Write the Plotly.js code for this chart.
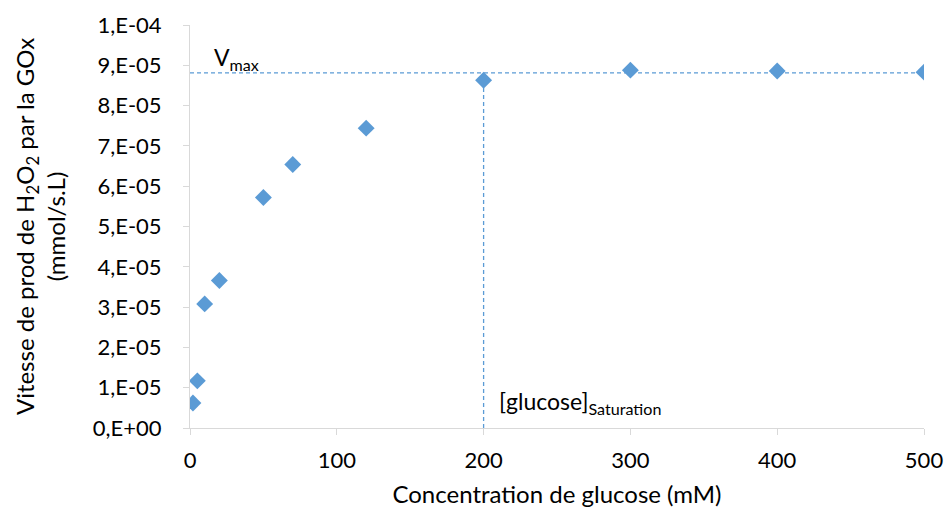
<!DOCTYPE html>
<html>
<head>
<meta charset="utf-8">
<script src="https://cdn.plot.ly/plotly-3.0.1.min.js"></script>
<style>html,body{margin:0;padding:0;background:#fff;}#chart{width:944px;height:513px;}</style>
</head>
<body>
<div id="chart"></div>
<script>
// Data
const glucose = [2, 5, 10, 20, 50, 70, 120, 200, 300, 400, 500];
const rate = [6.2e-6, 11.7e-6, 30.8e-6, 36.6e-6, 57.2e-6, 65.4e-6, 74.4e-6, 86.3e-6, 88.8e-6, 88.6e-6, 88.3e-6];
const vmax = 88.1e-6;
const satConc = 200;
const vmaxLineX = [0, 500];
const vmaxLineY = [vmax, vmax];
const satLineX = [satConc, satConc];
const satLineY = [0, vmax];
const yTickVals = [0, 1e-5, 2e-5, 3e-5, 4e-5, 5e-5, 6e-5, 7e-5, 8e-5, 9e-5, 1e-4];
const yTickText = ["0,E+00", "1,E-05", "2,E-05", "3,E-05", "4,E-05", "5,E-05", "6,E-05", "7,E-05", "8,E-05", "9,E-05", "1,E-04"];
const xTickVals = [0, 100, 200, 300, 400, 500];

const blue = '#5b9bd5';
const font = 'Lato, "Open Sans", sans-serif';

const traces = [
  {x: vmaxLineX, y: vmaxLineY, mode: 'lines', line: {color: blue, width: 1.3, dash: '4px,3px'}, hoverinfo: 'skip', showlegend: false},
  {x: satLineX, y: satLineY, mode: 'lines', line: {color: blue, width: 1.3, dash: '4px,3px'}, hoverinfo: 'skip', showlegend: false},
  {x: glucose, y: rate, mode: 'markers', marker: {symbol: 'diamond', size: 13, color: blue}, showlegend: false}
];

const layout = {
  width: 944, height: 513,
  margin: {l: 190, r: 20, t: 25, b: 85},
  paper_bgcolor: '#fff', plot_bgcolor: '#fff',
  font: {family: font, size: 23, color: '#000'},
  showlegend: false,
  xaxis: {
    range: [0, 500], tickvals: xTickVals, ticktext: xTickVals.map(String),
    showgrid: false, zeroline: false, showline: true, linecolor: '#d9d9d9', linewidth: 1,
    ticks: 'outside', ticklen: 6, tickcolor: '#d9d9d9', ticklabelstandoff: 7,
    tickfont: {family: font, size: 22, color: '#000'},
    title: {text: 'Concentration de glucose (mM)', font: {family: font, size: 24, color: '#000'}, standoff: 13}
  },
  yaxis: {
    range: [0, 1e-4], tickvals: yTickVals, ticktext: yTickText,
    showgrid: false, zeroline: false, showline: true, linecolor: '#d9d9d9', linewidth: 1,
    ticks: 'outside', ticklen: 6, tickcolor: '#d9d9d9', ticklabelstandoff: 17,
    tickfont: {family: font, size: 22, color: '#000'},
    title: {text: 'Vitesse de prod de H<sub>2</sub>O<sub>2</sub> par la GOx<br>(mmol/s.L)', font: {family: font, size: 24, color: '#000'}, standoff: 20}
  },
  annotations: [
    {x: 15, y: vmax, xref: 'x', yref: 'y', xanchor: 'left', yanchor: 'bottom', yshift: -3, showarrow: false,
     text: 'V<sub>max</sub>', font: {family: font, size: 23, color: '#000'}},
    {x: 209, y: 2e-6, xref: 'x', yref: 'y', xanchor: 'left', yanchor: 'bottom', showarrow: false,
     text: '[glucose]<sub>Saturation</sub>', font: {family: font, size: 23, color: '#000'}}
  ]
};

Plotly.newPlot('chart', traces, layout, {displayModeBar: false, staticPlot: true});
</script>
</body>
</html>
